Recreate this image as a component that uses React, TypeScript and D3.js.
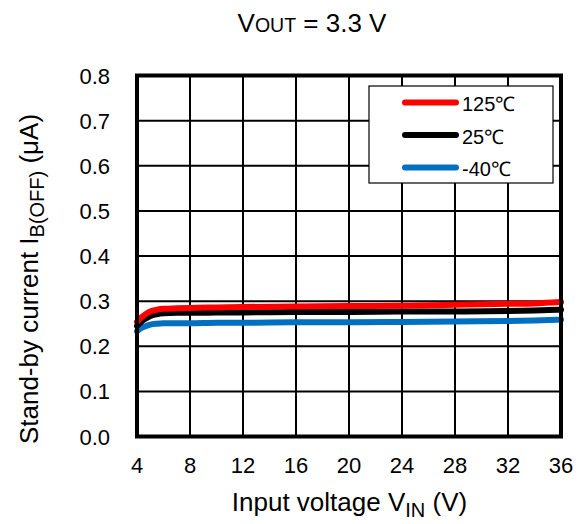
import React from "react";
import * as d3 from "d3";

const xTicks = [4, 8, 12, 16, 20, 24, 28, 32, 36];
const yTicks = [0, 0.1, 0.2, 0.3, 0.4, 0.5, 0.6, 0.7, 0.8];

const vin = [4, 4.3, 4.7, 5, 5.5, 6, 7, 8, 10, 12, 16, 20, 24, 28, 32, 34, 36];
const i125 = [0.254, 0.263, 0.272, 0.277, 0.281, 0.283, 0.284, 0.285, 0.286, 0.287, 0.288, 0.289, 0.290, 0.292, 0.294, 0.295, 0.298];
const i25 = [0.245, 0.254, 0.262, 0.267, 0.271, 0.273, 0.274, 0.274, 0.275, 0.275, 0.276, 0.276, 0.277, 0.277, 0.278, 0.279, 0.281];
const im40 = [0.233, 0.240, 0.245, 0.248, 0.250, 0.251, 0.251, 0.251, 0.252, 0.252, 0.253, 0.253, 0.254, 0.255, 0.256, 0.257, 0.259];

const seriesNames = ["125℃", "25℃", "-40℃"];
const seriesColors = ["#ff0000", "#000000", "#0070c0"];
const seriesData = [i125, i25, im40];

export default function App() {
  const W = 585, H = 524;
  const left = 137, right = 561, top = 75.5, bottom = 436.5;
  const x = d3.scaleLinear().domain([4, 36]).range([left, right]);
  const y = d3.scaleLinear().domain([0, 0.8]).range([bottom, top]);
  const line = d3.line<number>().x((_, i) => x(vin[i])).y((d) => y(d)).curve(d3.curveMonotoneX);
  const font = "'Liberation Sans', Arial, sans-serif";
  const order = [2, 1, 0];
  return (
    <svg width={W} height={H} style={{ position: "absolute", left: 0, top: 0, background: "#fff" }} fontFamily={font}>
      <rect x={0} y={0} width={W} height={H} fill="#fff" />
      <text x={312} y={32} textAnchor="middle" fontSize={26} fill="#000">
        V<tspan fontSize={19.5}>OUT</tspan> = 3.3 V
      </text>
      {xTicks.map((t) => (
        <line key={"gx" + t} x1={x(t)} x2={x(t)} y1={top} y2={bottom} stroke="#000" strokeWidth={2} />
      ))}
      {yTicks.map((t) => (
        <line key={"gy" + t} x1={left} x2={right} y1={y(t)} y2={y(t)} stroke="#000" strokeWidth={2} />
      ))}
      {order.map((k) => (
        <path key={"s" + k} d={line(seriesData[k]) || ""} fill="none" stroke={seriesColors[k]} strokeWidth={6} strokeLinecap="round" />
      ))}
      <rect x={left} y={top} width={right - left} height={bottom - top} fill="none" stroke="#000" strokeWidth={4} />
      <rect x={369} y={86} width={184} height={97} fill="#fff" stroke="#000" strokeWidth={1.2} />
      {seriesNames.map((n, i) => {
        const ly = 102.5 + i * 32.5;
        return (
          <g key={"lg" + i}>
            <line x1={405} x2={456} y1={ly} y2={ly} stroke={seriesColors[i]} strokeWidth={6} strokeLinecap="round" />
            <text x={462} y={ly + 8.5} fontSize={20} fill="#000">{n}</text>
          </g>
        );
      })}
      {yTicks.map((t) => (
        <text key={"yl" + t} x={110} y={y(t) + 8} textAnchor="end" fontSize={22} fill="#000">{t.toFixed(1)}</text>
      ))}
      {xTicks.map((t) => (
        <text key={"xl" + t} x={x(t)} y={473} textAnchor="middle" fontSize={22} fill="#000">{t}</text>
      ))}
      <text x={349.5} y={511} textAnchor="middle" fontSize={26} fill="#000">
        Input voltage V<tspan fontSize={20} dy={6}>IN</tspan><tspan dy={-6}> (V)</tspan>
      </text>
      <text transform={`translate(38, 279) rotate(-90)`} textAnchor="middle" fontSize={26} fill="#000">
        Stand-by current I<tspan fontSize={20} dy={6}>B(OFF)</tspan><tspan dy={-6}> (μA)</tspan>
      </text>
    </svg>
  );
}
